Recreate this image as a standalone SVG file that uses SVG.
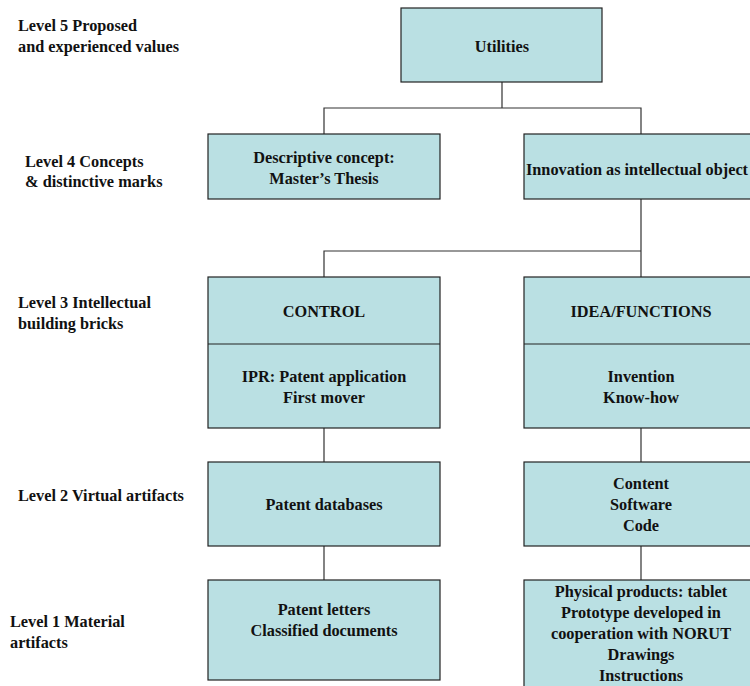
<svg xmlns="http://www.w3.org/2000/svg" width="750" height="686" viewBox="0 0 750 686">
  <style>
    text { font-family: 'Liberation Serif', 'Times New Roman', serif; font-weight: 700; font-size: 16.3px; fill: #111; }
    .c { text-anchor: middle; }
    .box { fill: #BAE0E3; stroke: #222; stroke-width: 1.2; }
    .div { stroke: #222; stroke-width: 1.2; }
    .wire { fill: none; stroke: #333; stroke-width: 1.2; }
  </style>
  <rect width="750" height="686" fill="#fff"/>

  <!-- level captions -->
  <g id="levels">
    <text x="18" y="31">Level 5 Proposed</text>
    <text x="18" y="52">and experienced values</text>
    <text x="25" y="167">Level 4 Concepts</text>
    <text x="25" y="187">&amp; distinctive marks</text>
    <text x="18" y="308">Level 3 Intellectual</text>
    <text x="18" y="329">building bricks</text>
    <text x="18" y="501">Level 2 Virtual artifacts</text>
    <text x="10" y="627">Level 1 Material</text>
    <text x="10" y="648">artifacts</text>
  </g>

  <!-- connectors -->
  <g id="connectors">
    <path class="wire" d="M502 82 V108 M324 134 V108 H641 V134"/>
    <path class="wire" d="M641 199 V277 M324 277 V251 H641"/>
    <path class="wire" d="M324 428 V462 M641 428 V462"/>
    <path class="wire" d="M324 546 V580 M641 546 V580"/>
  </g>

  <g id="utilities">
    <rect class="box" x="401" y="8" width="201" height="74"/>
    <text class="c" x="502" y="52">Utilities</text>
  </g>

  <g id="descriptive">
    <rect class="box" x="208" y="134" width="232" height="65"/>
    <text class="c" x="324" y="163">Descriptive concept:</text>
    <text class="c" x="324" y="184">Master’s Thesis</text>
  </g>

  <g id="innovation">
    <rect class="box" x="524" y="134" width="234" height="65"/>
    <text class="c" x="637" y="175">Innovation as intellectual object</text>
  </g>

  <g id="control">
    <rect class="box" x="208" y="277" width="232" height="151"/>
    <line class="div" x1="208" y1="344" x2="440" y2="344"/>
    <text class="c" x="324" y="317">CONTROL</text>
    <text class="c" x="324" y="382">IPR: Patent application</text>
    <text class="c" x="324" y="403">First mover</text>
  </g>

  <g id="idea">
    <rect class="box" x="524" y="277" width="234" height="151"/>
    <line class="div" x1="524" y1="344" x2="758" y2="344"/>
    <text class="c" x="641" y="317">IDEA/FUNCTIONS</text>
    <text class="c" x="641" y="382">Invention</text>
    <text class="c" x="641" y="403">Know-how</text>
  </g>

  <g id="patent-db">
    <rect class="box" x="208" y="462" width="232" height="84"/>
    <text class="c" x="324" y="510">Patent databases</text>
  </g>

  <g id="content">
    <rect class="box" x="524" y="462" width="234" height="84"/>
    <text class="c" x="641" y="489">Content</text>
    <text class="c" x="641" y="510">Software</text>
    <text class="c" x="641" y="531">Code</text>
  </g>

  <g id="patent-letters">
    <rect class="box" x="208" y="580" width="232" height="100"/>
    <text class="c" x="324" y="615">Patent letters</text>
    <text class="c" x="324" y="636">Classified documents</text>
  </g>

  <g id="physical">
    <rect class="box" x="524" y="580" width="234" height="120"/>
    <text class="c" x="641" y="597">Physical products: tablet</text>
    <text class="c" x="641" y="618">Prototype developed in</text>
    <text class="c" x="641" y="639">cooperation with NORUT</text>
    <text class="c" x="641" y="660">Drawings</text>
    <text class="c" x="641" y="681">Instructions</text>
  </g>
</svg>
